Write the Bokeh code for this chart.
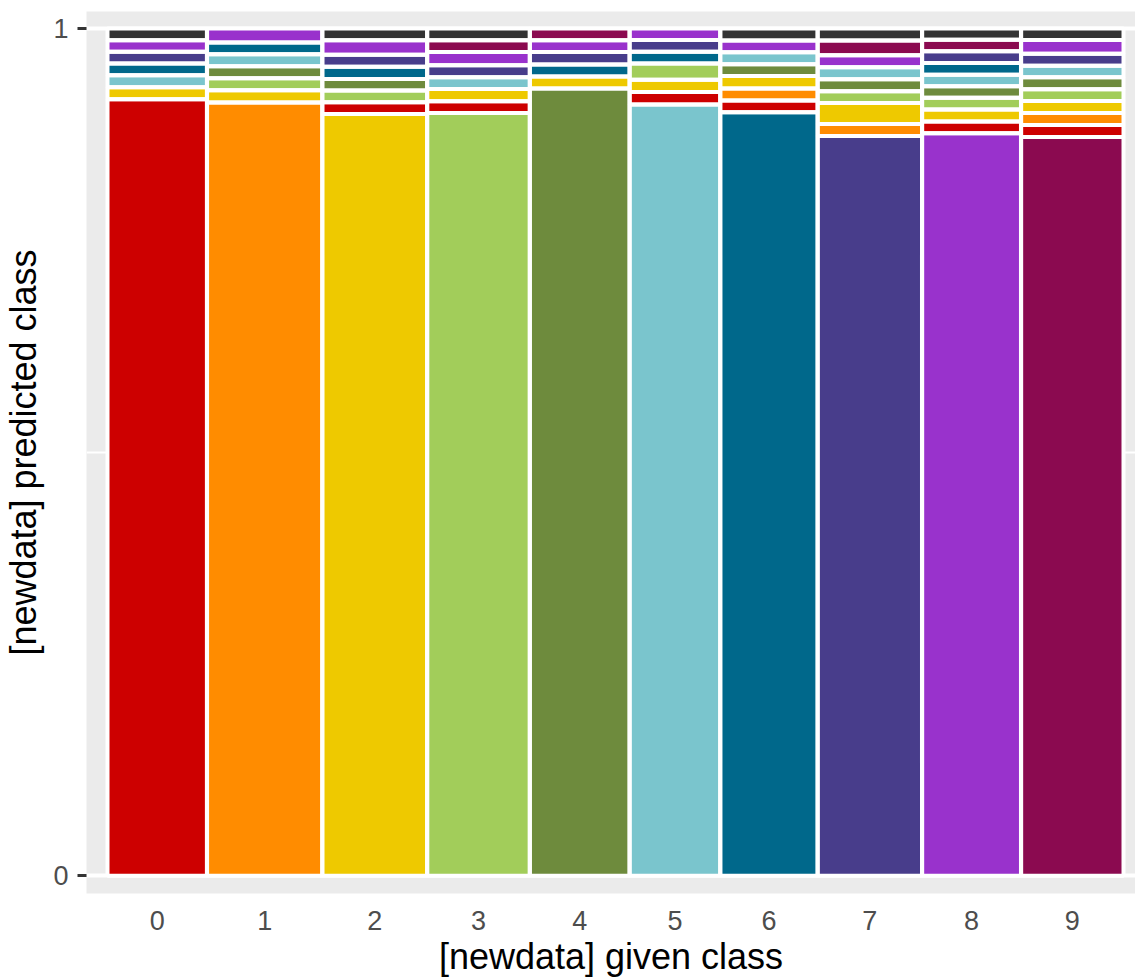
from bokeh.plotting import figure
from bokeh.models import FixedTicker, ColumnDataSource
from bokeh.embed import file_html
from bokeh.resources import INLINE

# ---- data ----
given_classes = ["0", "1", "2", "3", "4", "5", "6", "7", "8", "9"]
given_counts = [980, 1135, 1032, 1010, 982, 892, 958, 1028, 974, 1009]
pred_levels = ["0", "1", "2", "3", "4", "5", "6", "7", "8", "9", "NA"]
# percent of each given class assigned to each predicted class
pred_0 = [91.66, 0, 1.38, 1.39, 0, 1.46, 1.41, 0, 1.38, 1.41]
pred_1 = [0, 91.27, 0, 0, 0, 0, 1.41, 1.41, 0, 1.41]
pred_2 = [1.42, 1.46, 89.89, 1.44, 1.42, 1.46, 1.46, 2.46, 1.42, 1.41]
pred_3 = [0, 1.42, 1.38, 90.01, 0, 1.91, 0, 1.41, 1.38, 1.41]
pred_4 = [0, 1.39, 1.38, 0, 92.92, 0, 1.41, 1.41, 1.35, 1.41]
pred_5 = [1.42, 1.42, 0, 1.40, 0, 91.03, 1.41, 1.41, 1.37, 1.36]
pred_6 = [1.38, 1.39, 1.43, 0, 1.42, 1.40, 90.12, 0, 1.37, 0]
pred_7 = [1.38, 0, 1.43, 1.40, 1.46, 1.37, 0, 87.34, 1.38, 1.41]
pred_8 = [1.38, 1.66, 1.71, 1.59, 1.39, 1.37, 1.38, 1.41, 87.65, 1.61]
pred_9 = [0, 0, 0, 1.36, 1.39, 0, 0, 1.74, 1.37, 87.17]
pred_na = [1.38, 0, 1.38, 1.40, 0, 0, 1.42, 1.43, 1.33, 1.37]

palette = ["#CD0000", "#FF8C00", "#EEC900", "#A2CD5A", "#6E8B3D", "#7AC5CD",
           "#00688B", "#483D8B", "#9932CC", "#8B0A50", "#333333"]

preds = [pred_0, pred_1, pred_2, pred_3, pred_4, pred_5, pred_6, pred_7,
         pred_8, pred_9, pred_na]

# ---- mosaic geometry ----
N = float(sum(given_counts))
ox, oy = 0.0002, 0.0
avail_x = 1 - ox * (len(given_counts) - 1)
L, R, B, T, C = [], [], [], [], []
centers = []
x = 0.0
for j, n in enumerate(given_counts):
    w = n / N * avail_x
    order = [j] + [i for i in range(len(preds)) if i != j]
    segs = [(i, preds[i][j]) for i in order if preds[i][j] > 0]
    tot = sum(v for _, v in segs)
    avail_y = 1 - oy * (len(segs) - 1)
    y = 0.0
    for i, v in segs:
        h = v / tot * avail_y
        L.append(x); R.append(x + w); B.append(y); T.append(y + h)
        C.append(palette[i])
        y += h + oy
    centers.append(round(x + w / 2, 6))
    x += w + ox

src = ColumnDataSource(dict(left=L, right=R, bottom=B, top=T, color=C))

p = figure(width=1135, height=979, output_backend="svg", toolbar_location=None,
           x_range=(-0.02067, 1.01181), y_range=(-0.0210, 1.02006),
           min_border_left=86, min_border_top=11, min_border_right=0,
           min_border_bottom=86)
p.background_fill_color = "#EBEBEB"
p.border_fill_color = "white"
p.outline_line_color = None

p.quad(left="left", right="right", bottom="bottom", top="top", source=src,
       fill_color="color", line_color=None)
p.quad(left="left", right="right", bottom="bottom", top="top", source=src,
       fill_alpha=0, line_color="white", line_width=4)

p.xgrid.visible = False
p.ygrid.ticker = FixedTicker(ticks=[0, 1], minor_ticks=[0.5])
p.ygrid.grid_line_color = "white"
p.ygrid.grid_line_width = 4
p.ygrid.minor_grid_line_color = "white"
p.ygrid.minor_grid_line_width = 2

font = "Liberation Sans"
p.xaxis.ticker = FixedTicker(ticks=centers)
p.xaxis.major_label_overrides = {c: lab for c, lab in zip(centers, given_classes)}
p.xaxis.major_tick_line_color = None
p.xaxis.minor_tick_line_color = None
p.xaxis.major_tick_out = 0
p.xaxis.major_tick_in = 0
p.xaxis.axis_line_color = None
p.xaxis.major_label_standoff = 17
p.xaxis.axis_label = "[newdata] given class"
p.xaxis.axis_label_standoff = 3

p.yaxis.ticker = FixedTicker(ticks=[0, 1])
p.yaxis.major_label_overrides = {0: "0", 1: "1"}
p.yaxis.minor_tick_line_color = None
p.yaxis.axis_line_color = None
p.yaxis.major_tick_out = 9
p.yaxis.major_tick_in = 0
p.yaxis.major_tick_line_width = 3
p.yaxis.major_tick_line_color = "#333333"
p.yaxis.major_label_standoff = 9
p.yaxis.axis_label = "[newdata] predicted class"
p.yaxis.axis_label_standoff = 6

for ax in (p.xaxis, p.yaxis):
    ax.major_label_text_font = font
    ax.major_label_text_font_size = "27px"
    ax.major_label_text_color = "#4D4D4D"
    ax.axis_label_text_font = font
    ax.axis_label_text_font_size = "36px"
    ax.axis_label_text_font_style = "normal"
    ax.axis_label_text_color = "black"

open("out.html", "w").write(file_html(p, INLINE))
